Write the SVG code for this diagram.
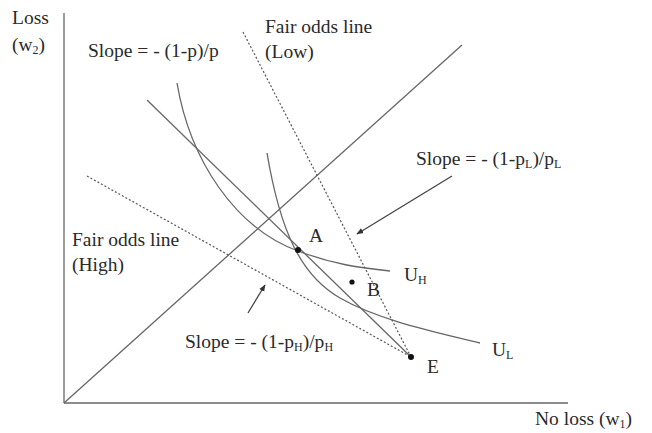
<svg xmlns="http://www.w3.org/2000/svg" width="652" height="433" viewBox="0 0 652 433">
<defs>
<marker id="ah" viewBox="0 0 10 10" refX="9" refY="5" markerWidth="7" markerHeight="7" orient="auto" markerUnits="userSpaceOnUse">
<path d="M0,1 L10,5 L0,9 Z" fill="#333"/>
</marker>
<style>
text{font-family:"Liberation Serif","Times New Roman",serif;font-size:19.5px;fill:#2a2a2a}
.sub{font-size:12px}
.ln{fill:none;stroke:#666;stroke-width:1.3}
.dot{fill:none;stroke:#555;stroke-width:1.2;stroke-dasharray:2,2}
.arr{fill:none;stroke:#444;stroke-width:1.3}
.pt{fill:#111}
</style>
</defs>
<rect width="652" height="433" fill="#fff"/>
<g id="axes">
<line class="ln" x1="64" y1="13" x2="64" y2="403"/>
<line class="ln" x1="64" y1="403" x2="568" y2="403"/>
<text x="12" y="24">Loss</text>
<text x="12" y="51">(w<tspan class="sub" dy="3">2</tspan><tspan dy="-3">)</tspan></text>
<text x="535" y="425">No loss (w<tspan class="sub" dy="3">1</tspan><tspan dy="-3">)</tspan></text>
</g>
<g id="certainty-line">
<line class="ln" x1="64" y1="403" x2="462" y2="45"/>
</g>
<g id="fair-odds-low">
<line class="dot" x1="243" y1="32" x2="411" y2="357"/>
<text x="265" y="33">Fair odds line</text>
<text x="265" y="58">(Low)</text>
</g>
<g id="fair-odds-high">
<line class="dot" x1="87" y1="176" x2="411" y2="357"/>
<text x="72" y="246">Fair odds line</text>
<text x="72" y="271">(High)</text>
</g>
<g id="pooled-line">
<line class="ln" x1="147" y1="100" x2="411" y2="357"/>
<text x="88" y="57">Slope = - (1-p)/p</text>
</g>
<g id="UH">
<path class="ln" d="M177,83 C190,160 235,228 298,251 C332,264 360,268 390,271"/>
<text x="404" y="281">U<tspan class="sub" dy="3">H</tspan></text>
</g>
<g id="UL">
<path class="ln" d="M267,153 C280,230 300,275 340,298 C380,321 440,333 480,343"/>
<text x="492" y="356">U<tspan class="sub" dy="3">L</tspan></text>
</g>
<g id="A"><circle class="pt" cx="298" cy="250" r="3"/><text x="309" y="242">A</text></g>
<g id="B"><circle class="pt" cx="352" cy="282" r="2.6"/><text x="367" y="296">B</text></g>
<g id="E"><circle class="pt" cx="411" cy="357" r="3"/><text x="427" y="373">E</text></g>
<g id="label-low-slope">
<text x="416" y="165">Slope = - (1-p<tspan class="sub" dy="3">L</tspan><tspan dy="-3">)/p</tspan><tspan class="sub" dy="3">L</tspan></text>
</g>
<g id="label-high-slope">
<text x="185" y="348">Slope = - (1-p<tspan class="sub" dy="3">H</tspan><tspan dy="-3">)/p</tspan><tspan class="sub" dy="3">H</tspan></text>
</g>
<g id="connectors">
<line class="arr" x1="452" y1="176" x2="357" y2="234" marker-end="url(#ah)"/>
<line class="arr" x1="248" y1="313" x2="265" y2="285" marker-end="url(#ah)"/>
</g>
</svg>
